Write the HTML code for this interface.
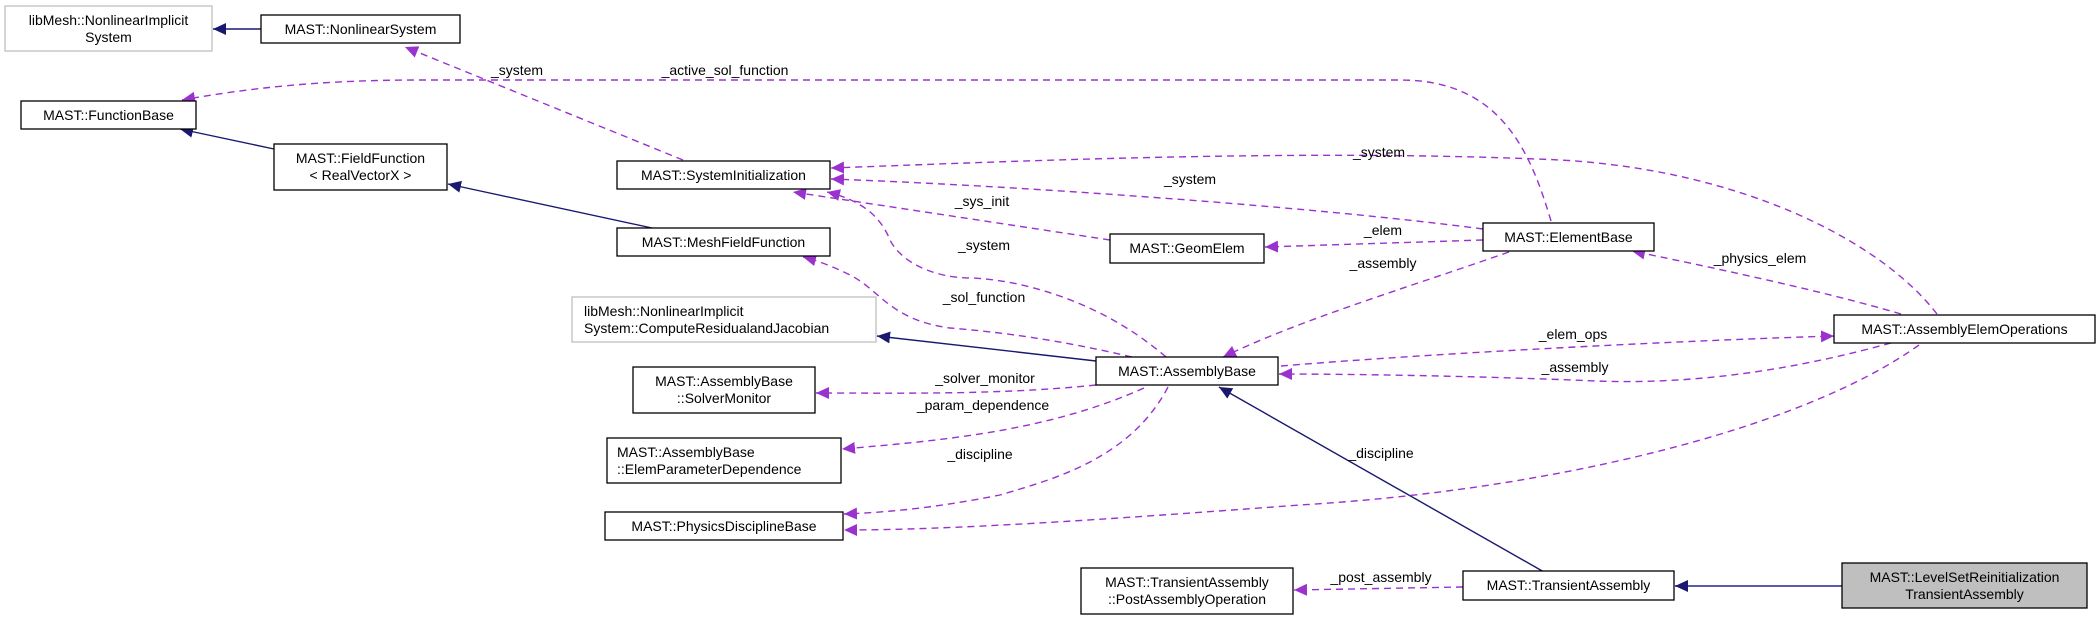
<!DOCTYPE html>
<html><head><meta charset="utf-8"><style>
html,body{margin:0;padding:0;background:#fff;}
svg{display:block;}
text{font-family:"Liberation Sans",sans-serif;font-size:14px;fill:#000;}
.n{fill:#fff;stroke:#000;stroke-width:1.3;}
.g{fill:#fff;stroke:#bfbfbf;stroke-width:1.3;}
.s{fill:none;stroke:#191970;stroke-width:1.4;}
.d{fill:none;stroke:#9a32cd;stroke-width:1.4;stroke-dasharray:7,5;}
</style></head><body>
<svg width="2100" height="620" viewBox="0 0 2100 620" xmlns="http://www.w3.org/2000/svg">
<defs>
<marker id="an" markerWidth="14" markerHeight="12" refX="13" refY="6" orient="auto" markerUnits="userSpaceOnUse"><path d="M0,0 L13,6 L0,12 Z" fill="#191970"/></marker>
<marker id="ap" markerWidth="14" markerHeight="12" refX="13" refY="6" orient="auto" markerUnits="userSpaceOnUse"><path d="M0,0 L13,6 L0,12 Z" fill="#9a32cd"/></marker>
</defs>

<!-- solid edges -->
<path class="s" d="M261,29 L213,29" marker-end="url(#an)"/>
<path class="s" d="M274,149 L180,129" marker-end="url(#an)"/>
<path class="s" d="M652,228 L448,184" marker-end="url(#an)"/>
<path class="s" d="M1096,361 L877,336" marker-end="url(#an)"/>
<path class="s" d="M1544,572 L1219,387" marker-end="url(#an)"/>
<path class="s" d="M1842,586 L1675,586" marker-end="url(#an)" style="stroke:#5a5aa8;stroke-width:2"/>

<!-- dashed edges -->
<path class="d" d="M1551,221 C1530,150 1500,80 1400,80 L420,80 C320,80 250,88 182,100" marker-end="url(#ap)"/>
<path class="d" d="M683,160 L405,47" marker-end="url(#ap)"/>
<path class="d" d="M1937,314 C1880,240 1740,170 1560,160 C1300,148 1000,162 831,168" marker-end="url(#ap)"/>
<path class="d" d="M1483,229 C1300,205 1000,185 831,179" marker-end="url(#ap)"/>
<path class="d" d="M1110,240 L793,192" marker-end="url(#ap)"/>
<path class="d" d="M1166,357 C1100,300 1020,280 972,278 C930,278 900,260 890,240 C880,215 860,200 827,192" marker-end="url(#ap)"/>
<path class="d" d="M1483,240 L1265,247" marker-end="url(#ap)"/>
<path class="d" d="M1509,252 C1400,290 1300,320 1223,357" marker-end="url(#ap)"/>
<path class="d" d="M1901,314 C1820,290 1700,265 1632,251" marker-end="url(#ap)"/>
<path class="d" d="M1281,366 C1450,352 1700,340 1834,336" marker-end="url(#ap)"/>
<path class="d" d="M1891,343 C1800,368 1700,385 1596,381 C1480,376 1350,374 1279,374" marker-end="url(#ap)"/>
<path class="d" d="M1919,345 C1800,430 1550,490 1300,505 C1100,520 950,530 844,530" marker-end="url(#ap)"/>
<path class="d" d="M1132,357 C1060,340 1000,332 950,328 C890,320 880,290 850,275 C830,265 815,260 803,257" marker-end="url(#ap)"/>
<path class="d" d="M1096,385 C1000,395 900,393 816,393" marker-end="url(#ap)"/>
<path class="d" d="M1144,388 C1050,430 950,440 842,449" marker-end="url(#ap)"/>
<path class="d" d="M1168,387 C1130,460 1050,480 1000,495 C950,505 900,512 844,514" marker-end="url(#ap)"/>
<path class="d" d="M1463,587 L1294,590" marker-end="url(#ap)"/>

<!-- edge labels -->
<g text-anchor="middle">
<text x="517" y="75">_system</text>
<text x="725" y="75">_active_sol_function</text>
<text x="1379" y="157">_system</text>
<text x="1190" y="184">_system</text>
<text x="982" y="206">_sys_init</text>
<text x="984" y="250">_system</text>
<text x="1383" y="235">_elem</text>
<text x="1383" y="268">_assembly</text>
<text x="1760" y="263">_physics_elem</text>
<text x="984" y="302">_sol_function</text>
<text x="1573" y="339">_elem_ops</text>
<text x="1575" y="372">_assembly</text>
<text x="985" y="383">_solver_monitor</text>
<text x="983" y="410">_param_dependence</text>
<text x="980" y="459">_discipline</text>
<text x="1381" y="458">_discipline</text>
<text x="1381" y="582">_post_assembly</text>
</g>

<!-- nodes -->
<g text-anchor="middle">
<rect class="g" x="5" y="6" width="207" height="45"/>
<text x="108.5" y="25">libMesh::NonlinearImplicit</text><text x="108.5" y="42">System</text>

<rect class="n" x="261" y="15" width="199" height="28"/>
<text x="360.5" y="34">MAST::NonlinearSystem</text>

<rect class="n" x="21" y="101" width="175" height="28"/>
<text x="108.5" y="120">MAST::FunctionBase</text>

<rect class="n" x="274" y="144" width="173" height="46"/>
<text x="360.5" y="163">MAST::FieldFunction</text><text x="360.5" y="180">&lt; RealVectorX &gt;</text>

<rect class="n" x="617" y="161" width="213" height="28"/>
<text x="723.5" y="180">MAST::SystemInitialization</text>

<rect class="n" x="617" y="228" width="213" height="28"/>
<text x="723.5" y="247">MAST::MeshFieldFunction</text>

<rect class="g" x="572" y="297" width="304" height="45"/>
<text x="584" y="316" text-anchor="start">libMesh::NonlinearImplicit</text><text x="584" y="333" text-anchor="start">System::ComputeResidualandJacobian</text>

<rect class="n" x="633" y="367" width="182" height="46"/>
<text x="724" y="386">MAST::AssemblyBase</text><text x="724" y="403">::SolverMonitor</text>

<rect class="n" x="607" y="438" width="234" height="45"/>
<text x="617" y="457" text-anchor="start">MAST::AssemblyBase</text><text x="617" y="474" text-anchor="start">::ElemParameterDependence</text>

<rect class="n" x="605" y="512" width="238" height="28"/>
<text x="724" y="531">MAST::PhysicsDisciplineBase</text>

<rect class="n" x="1110" y="234" width="154" height="29"/>
<text x="1187" y="253">MAST::GeomElem</text>

<rect class="n" x="1483" y="223" width="171" height="28"/>
<text x="1568.5" y="242">MAST::ElementBase</text>

<rect class="n" x="1096" y="357" width="182" height="28"/>
<text x="1187" y="376">MAST::AssemblyBase</text>

<rect class="n" x="1834" y="315" width="261" height="28"/>
<text x="1964.5" y="334">MAST::AssemblyElemOperations</text>

<rect class="n" x="1081" y="568" width="212" height="46"/>
<text x="1187" y="587">MAST::TransientAssembly</text><text x="1187" y="604">::PostAssemblyOperation</text>

<rect class="n" x="1463" y="571" width="211" height="29"/>
<text x="1568.5" y="590">MAST::TransientAssembly</text>

<rect x="1842" y="563" width="245" height="45" fill="#bfbfbf" stroke="#000" stroke-width="1.3"/>
<text x="1964.5" y="582">MAST::LevelSetReinitialization</text><text x="1964.5" y="599">TransientAssembly</text>
</g>
</svg>
</body></html>
